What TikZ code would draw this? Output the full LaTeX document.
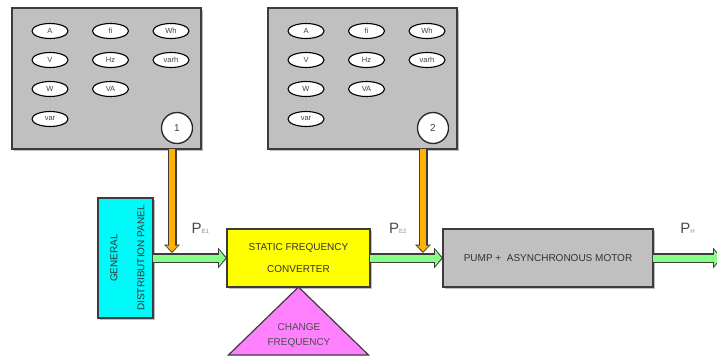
\documentclass[tikz,border=0pt]{standalone}
\usepackage{fontspec}
\setmainfont{Liberation Sans}
\usetikzlibrary{arrows.meta,positioning,shapes.geometric,shadows}
\definecolor{metergray}{RGB}{192,192,192}
\definecolor{edgegray}{RGB}{60,60,60}
\definecolor{panelcyan}{RGB}{0,250,250}
\definecolor{convyellow}{RGB}{255,255,0}
\definecolor{changepink}{RGB}{255,128,255}
\definecolor{feedorange}{RGB}{255,178,0}
\definecolor{flowgreen}{RGB}{135,255,135}
\begin{document}
\begin{tikzpicture}[x=1pt,y=-1pt,
  boxshadow/.style = {drop shadow={shadow xshift=1.5pt,shadow yshift=-1.5pt,fill=black!25,opacity=1}},
  meter/.style = {rectangle,draw=edgegray,fill=metergray,line width=1.3pt,minimum width=189pt,minimum height=141pt,anchor=north west,outer sep=0pt,boxshadow},
  unit/.style = {ellipse,draw=black,fill=white,line width=1.1pt,minimum width=36pt,minimum height=15pt,inner sep=0pt,font=\fontsize{7.5}{7.5}\selectfont,text=black!75},
  meterno/.style = {circle,draw=black!85,fill=white,line width=1.3pt,minimum size=31pt,inner sep=0pt,font=\fontsize{10}{10}\selectfont,text=black!75},
  block/.style = {rectangle,draw=edgegray,line width=1.2pt,align=center,font=\fontsize{10}{22}\selectfont,text=black!80,inner sep=0pt,outer sep=0pt,boxshadow},
  flow/.style = {draw=flowgreen,line width=7pt,shorten >=1.5pt,-{Triangle[length=6.5pt,width=16pt,line width=0pt]},
    preaction={draw=edgegray,line width=10pt,shorten >=0pt,-{Triangle[length=9pt,width=21pt,line width=0pt]}}},
  feed/.style = {draw=feedorange,line width=6pt,shorten >=1.5pt,-{Triangle[length=6pt,width=12pt,line width=0pt]},
    preaction={draw=edgegray,line width=9pt,shorten >=0pt,-{Triangle[length=8.5pt,width=16pt,line width=0pt]}}},
  plabel/.style = {above=21pt,inner sep=0pt,font=\fontsize{15}{15}\selectfont,text=black!70}]
\path[use as bounding box,fill=white] (0,0) rectangle (717,356);
\foreach \bx/\n in {12/1, 268/2} {
  \node[meter] (m\n) at (\bx,8) {};
  \foreach \u [count=\j from 0] in {A, fi, Wh}
      \node[unit] (u\n-1-\j) at (\bx+38+60.5*\j, 31) {\u};
  \foreach \u [count=\j from 0] in {V, Hz, varh}
      \node[unit] (u\n-2-\j) at (\bx+38+60.5*\j, 60) {\u};
  \foreach \u [count=\j from 0] in {W, VA}
      \node[unit] (u\n-3-\j) at (\bx+38+60.5*\j, 89) {\u};
  \node[unit] (u\n-4-0) at (\bx+38, 119) {var};
  \node[meterno] (c\n) at (\bx+165,128) {\n};
}
\node[block,fill=panelcyan,minimum width=55pt,minimum height=120pt] (gdp) at (125.5,258)
    {\rotatebox{90}{\fontsize{10}{27}\selectfont\begin{tabular}{@{}c@{}}GENERAL\\DISTRIBUTION PANEL\end{tabular}}};
\node[block,fill=convyellow,minimum width=143pt,minimum height=58pt] (sfc) at (298.5,258) {STATIC FREQUENCY\\CONVERTER};
\node[block,fill=metergray,minimum width=210pt,minimum height=58pt] (pump) at (548,258) {PUMP + \ ASYNCHRONOUS MOTOR};
\draw[draw=edgegray,fill=changepink,line width=1.2pt] (sfc.south) -- ++(-70,68) -- ++(140,0) -- cycle;
\node[align=center,font=\fontsize{10}{15}\selectfont,text=black!70] (chg) at (299,335) {CHANGE\\FREQUENCY};
\coordinate (out) at (722,258);
\coordinate (t1) at (172,253);
\coordinate (t2) at (423,253);
\draw[flow] (gdp) -- node[plabel,pos=.64] (pe1) {P{\fontsize{6}{6}\selectfont\color{black!45}E1}} (sfc);
\draw[flow] (sfc) -- node[plabel,pos=.38] (pe2) {P{\fontsize{6}{6}\selectfont\color{black!45}E2}} (pump);
\draw[flow] (pump) -- node[plabel,pos=.5] (ph) {P{\fontsize{6}{6}\selectfont\color{black!45}H}} (out);
\draw[feed] (m1.south -| t1) -- (t1);
\draw[feed] (m2.south -| t2) -- (t2);
\end{tikzpicture}
\end{document}
